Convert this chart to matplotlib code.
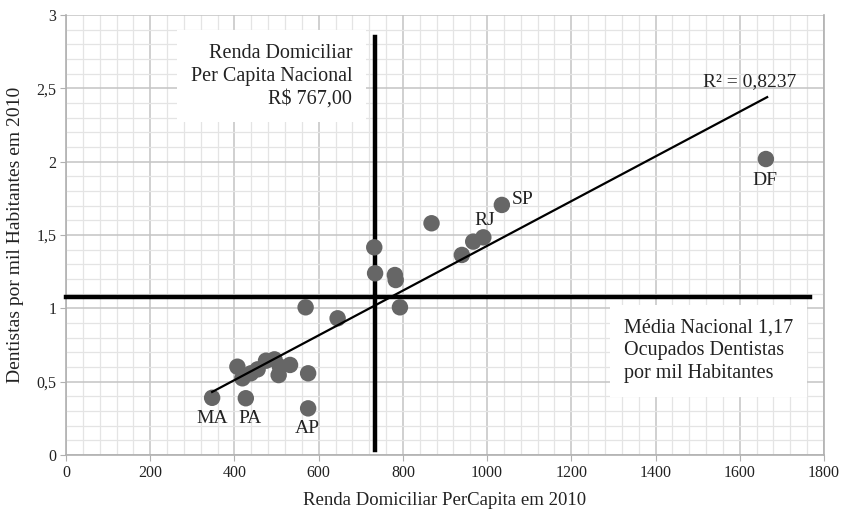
"""Dentistas por mil habitantes vs renda domiciliar per capita (UFs, 2010)."""

import matplotlib
matplotlib.use("Agg")
import matplotlib.pyplot as plt
from matplotlib.ticker import MultipleLocator, FuncFormatter

# renda per capita (R$) and dentistas por mil habitantes
renda = [347, 427, 575, 575, 407, 419, 439, 455, 475, 495, 508, 505, 532,
         569, 645, 732, 734, 781, 783, 793, 868, 940, 967, 991, 1035, 1662]
dentistas = [0.39, 0.387, 0.318, 0.557, 0.602, 0.523, 0.557, 0.584, 0.643,
             0.652, 0.602, 0.545, 0.614, 1.007, 0.932, 1.416, 1.239, 1.227,
             1.193, 1.007, 1.58, 1.364, 1.455, 1.484, 1.705, 2.018]

# labelled states: (name, x, y) of label text
uf_labels = [("MA", 347, 0.25), ("PA", 436, 0.25), ("AP", 573, 0.18),
             ("RJ", 995, 1.60), ("SP", 1085, 1.745), ("DF", 1660, 1.87)]

# trend line ends as drawn
trend_x = [347, 1665]
trend_y = [0.43, 2.44]
r2_text = "R² = 0,8237"

# thick reference lines
renda_ref_x = 734
renda_ref_span = [0.034, 2.85]
media_ref_y = 1.077
media_ref_span = [0, 1767]

serif = ["Liberation Serif", "DejaVu Serif"]
plt.rcParams["font.family"] = serif

fig = plt.figure(figsize=(8.49, 5.16), dpi=100)
ax = fig.add_axes([66 / 849, 1 - 455 / 516, (824 - 66) / 849, (455 - 15) / 516])

ax.set_xlim(0, 1800)
ax.set_ylim(0, 3)
ax.xaxis.set_major_locator(MultipleLocator(200))
ax.xaxis.set_minor_locator(MultipleLocator(40))
ax.yaxis.set_major_locator(MultipleLocator(0.5))
ax.yaxis.set_minor_locator(MultipleLocator(0.1))
ax.yaxis.set_major_formatter(FuncFormatter(lambda v, p: f"{v:g}".replace(".", ",")))

ax.grid(True, which="major", color="#c4c4c4", linewidth=1.1, zorder=0)
ax.grid(True, which="minor", color="#e4e4e4", linewidth=0.9, zorder=0)
ax.set_axisbelow(True)
for side in ("left", "bottom", "right"):
    ax.spines[side].set_color("#b0b0b0")
    ax.spines[side].set_linewidth(1.2)
ax.spines["top"].set_visible(False)
ax.tick_params(which="major", length=4, color="#b0b0b0", labelsize=11.5,
               labelcolor="#222222", pad=3)
ax.tick_params(which="minor", length=0)

ax.set_xlabel("Renda Domiciliar PerCapita em 2010", fontsize=13.5, labelpad=8,
              color="#222222")
ax.set_ylabel("Dentistas por mil Habitantes em 2010", fontsize=14, labelpad=9,
              color="#222222")

# reference lines
ax.plot([renda_ref_x, renda_ref_x], renda_ref_span, color="black", lw=3.2,
        zorder=3, clip_on=False)
ax.plot(media_ref_span, [media_ref_y, media_ref_y], color="black", lw=3.2,
        zorder=3, clip_on=False)

ax.scatter(renda, dentistas, s=140, color="#666666", edgecolors="none", zorder=4)
ax.plot(trend_x, trend_y, color="black", lw=1.6, zorder=5)

for name, x, y in uf_labels:
    ax.text(x, y, name, ha="center", va="center", fontsize=14, color="#222222",
            zorder=6)

ax.text(1624, 2.545, r2_text, ha="center", va="center", fontsize=14,
        color="#222222", zorder=6)

box = dict(facecolor="white", edgecolor="none", pad=10)
ax.text(680, 2.584, "Renda Domiciliar\nPer Capita Nacional\nR$ 767,00",
        ha="right", va="center", fontsize=14.5, color="#222222", linespacing=1.28,
        bbox=box, zorder=6)
ax.text(1325, 0.71, "Média Nacional 1,17\nOcupados Dentistas\npor mil Habitantes",
        ha="left", va="center", fontsize=14.5, color="#222222", linespacing=1.28,
        bbox=box, zorder=6)

fig.savefig("out.png", dpi=100)
plt.close(fig)
